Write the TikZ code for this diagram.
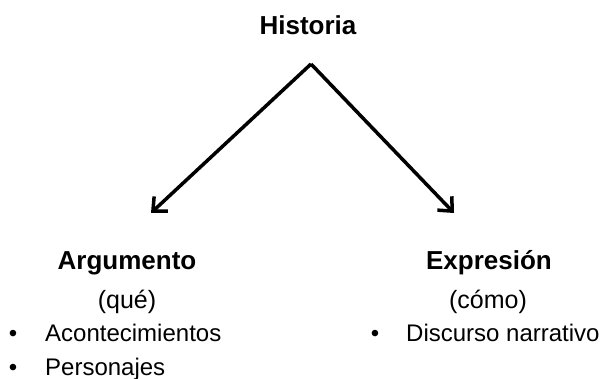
\documentclass[tikz,border=0pt]{standalone}
\usepackage{fontspec}
\setmainfont{Liberation Sans}
\usetikzlibrary{arrows.meta}
\tikzset{
  lbl/.style={inner sep=0pt, anchor=base, font=\fontsize{25}{30}\selectfont},
  head/.style={inner sep=0pt, anchor=base, font=\fontsize{26}{31}\selectfont\bfseries},
  item/.style={inner sep=0pt, anchor=base west, font=\fontsize{24}{29}\selectfont},
  bul/.style={inner sep=0pt, anchor=base, font=\fontsize{24}{29}\selectfont},
  arr/.style={line width=3.5pt, -{Straight Barb[length=11pt,width=20pt]}}
}
\begin{document}
\begin{tikzpicture}[x=1pt,y=1pt]
\useasboundingbox (0,0) rectangle (601,378);
\node[head] (hist) at (308,343) {Historia};
\coordinate (apex) at (311,314);
\coordinate (ltip) at (151,165);
\coordinate (rtip) at (454,165);
\draw[arr] (apex) -- (ltip);
\draw[arr] (apex) -- (rtip);
\node[head] (arg) at (127,109) {Argumento};
\node[lbl] (que) at (127,70) {(qué)};
\node[bul] (b1) at (13,37) {•};
\node[item] (acon) at (45,37) {Acontecimientos};
\node[bul] (b2) at (13,3) {•};
\node[item] (pers) at (45,3) {Personajes};
\node[head] (expr) at (489,109) {Expresión};
\node[lbl] (como) at (488,70) {(cómo)};
\node[bul] (b3) at (375,37) {•};
\node[item] (disc) at (406,37) {Discurso narrativo};
\end{tikzpicture}
\end{document}
